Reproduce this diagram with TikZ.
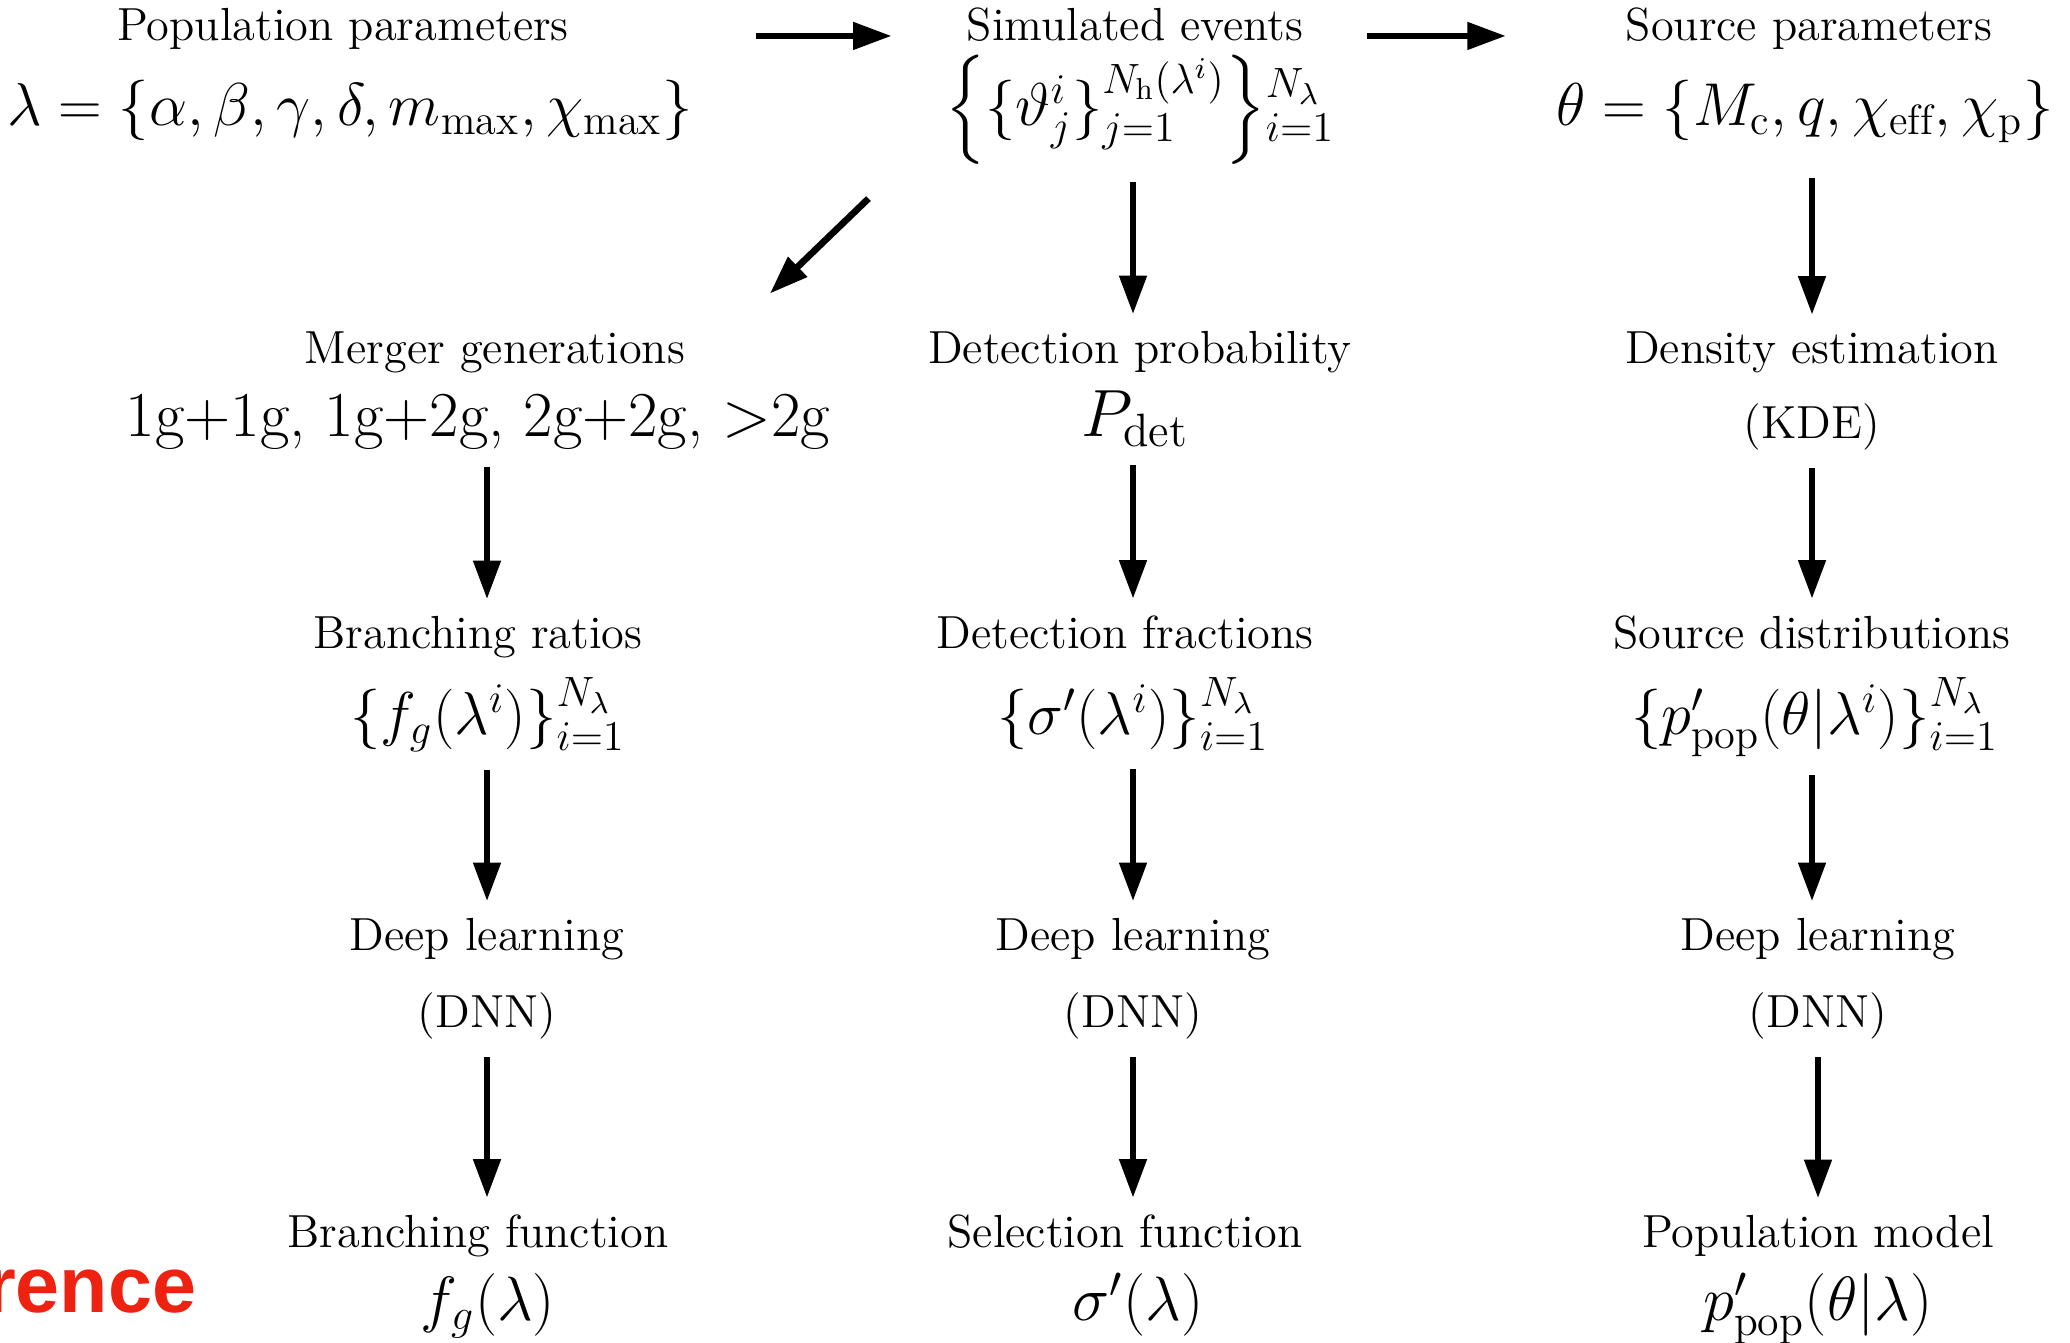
\RequirePackage{fix-cm}
\documentclass[tikz,border=0pt]{standalone}
\usepackage{amsmath}
\usepackage{fontspec}
\usetikzlibrary{arrows.meta, positioning}

\newfontfamily\labelsans{Liberation Sans}
\definecolor{cutred}{RGB}{238,34,17}
\newcommand{\ttlsize}{\fontsize{13.2}{15}\selectfont}
\newcommand{\frmsize}{\fontsize{17.2}{20}\selectfont}
\makeatletter
\newcommand{\outerbrace}[1]{\smash{\bBigg@{1.25}#1}}
\makeatother

\begin{document}
\begin{tikzpicture}[
  x=0.01cm, y=0.01cm,
  title/.style={font=\ttlsize, inner sep=0pt, anchor=base},
  formula/.style={font=\frmsize, inner sep=0pt, anchor=base},
  arrowstyle/.style={-{Triangle[length=11pt,width=7.5pt]}, line width=1.9pt},
  flow/.style={arrowstyle, shorten <=5pt, shorten >=4.5pt}
]
\useasboundingbox (0,0) rectangle (2070,-1342);

% top row
\node[title] (popt) at (343,-40) {Population parameters};
\node[formula] (popf) at (350,-125) {$\lambda=\{\alpha,\beta,\gamma,\delta,m_{\mathrm{max}},\chi_{\mathrm{max}}\}$};
\node[title] (simt) at (1135,-40) {Simulated events};
\node[formula] (simf) at (1140,-125) {$\outerbrace\{\{\vartheta^i_j\}_{j=1}^{N_{\mathrm{h}}(\lambda^i)}\outerbrace\}_{i=1\vphantom{j}}^{N_\lambda}$};
\node[title] (srct) at (1809,-40) {Source parameters};
\node[formula] (srcf) at (1805,-125) {$\theta=\{M_{\mathrm{c}},q,\chi_{\mathrm{eff}},\chi_{\mathrm{p}}\}$};

% second row
\node[title] (mgt) at (495,-363) {Merger generations};
\node[formula, font=\fontsize{18.2}{21}\selectfont] (mgf) at (478,-436) {1g+1g, 1g+2g, 2g+2g, $>$2g};
\node[title] (dpt) at (1140,-363) {Detection probability};
\node[formula, font=\fontsize{19}{22}\selectfont] (dpf) at (1135,-436) {$P_{\mathrm{det}}$};
\node[title] (det) at (1812,-363) {Density estimation};
\node[title] (def) at (1812,-438) {(KDE)};

% third row
\node[title] (brt) at (478,-648) {Branching ratios};
\node[formula] (brf) at (488,-734) {$\{f_g(\lambda^i)\}_{i=1}^{N_\lambda}$};
\node[title] (dft) at (1125,-648) {Detection fractions};
\node[formula] (dff) at (1133,-734) {$\{\sigma'(\lambda^i)\}_{i=1}^{N_\lambda}$};
\node[title] (sdt) at (1812,-648) {Source distributions};
\node[formula] (sdf) at (1815,-734) {$\{p'_{\mathrm{pop}}(\theta|\lambda^i)\}_{i=1}^{N_\lambda}$};

% fourth row
\node[title] (dlat) at (487,-950) {Deep learning};
\node[title] (dlaf) at (487,-1027) {(DNN)};
\node[title] (dlbt) at (1133,-950) {Deep learning};
\node[title] (dlbf) at (1133,-1027) {(DNN)};
\node[title] (dlct) at (1818,-950) {Deep learning};
\node[title] (dlcf) at (1818,-1027) {(DNN)};

% bottom row
\node[title] (bft) at (478,-1247) {Branching function};
\node[formula, font=\fontsize{17.8}{21}\selectfont] (bff) at (488,-1320) {$f_g(\lambda)$};
\node[title] (sft) at (1125,-1247) {Selection function};
\node[formula, font=\fontsize{17.8}{21}\selectfont] (sff) at (1138,-1320) {$\sigma'(\lambda)$};
\node[title] (pmt) at (1818,-1247) {Population model};
\node[formula, font=\fontsize{17.8}{21}\selectfont] (pmf) at (1818,-1320) {$p'_{\mathrm{pop}}(\theta|\lambda)$};

\node[font=\labelsans\bfseries\fontsize{22.5}{26}\selectfont, text=cutred, inner sep=0pt, anchor=base east] (cut) at (197,-1312) {rence};

\draw[arrowstyle, shorten <=17.7pt, shorten >=15pt] ([yshift=-1pt]popf.east |- popt.mid) -- ([yshift=-1pt]simf.west |- popt.mid);
\draw[arrowstyle, shorten <=9pt, shorten >=14.2pt] ([yshift=-1pt]simf.east |- simt.mid) -- ([yshift=-1pt]srcf.west |- simt.mid);
\draw[arrowstyle] ([shift={(-76,-48)}]simf.south west) -- ([shift={(84,37)}]mgt.north east);

\draw[flow, shorten <=9pt] (simf.south -| dlbt) -- (dpt.north -| dlbt);
\draw[flow, shorten <=10pt] (srcf.south -| det) -- (det.north);

\draw[flow] (mgf.south -| dlat) -- (brt.north -| dlat);
\draw[flow] (dpf.south -| dlbt) -- (dft.north -| dlbt);
\draw[flow] (def.south) -- (sdt.north -| def);

\draw[flow] (brf.south -| dlat) -- (dlat.north);
\draw[flow] (dff.south -| dlbt) -- (dlbt.north);
\draw[flow] (sdf.south -| det) -- (dlct.north -| det);

\draw[flow] (dlaf.south) -- (bft.north -| dlaf);
\draw[flow] (dlbf.south) -- (sft.north -| dlbf);
\draw[flow] (dlcf.south) -- (pmt.north -| dlcf);

\end{tikzpicture}
\end{document}
